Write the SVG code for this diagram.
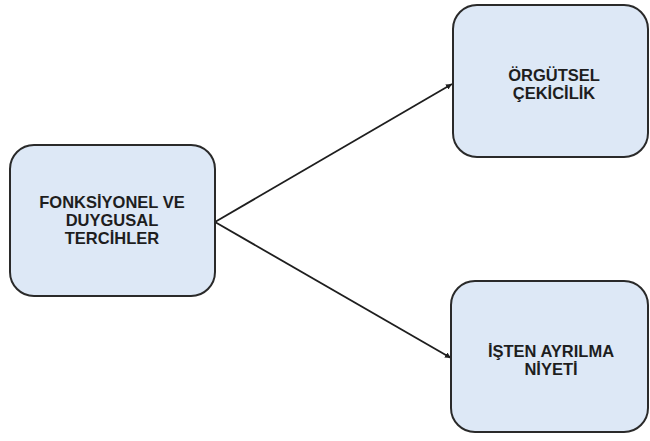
<svg xmlns="http://www.w3.org/2000/svg" width="650" height="441" viewBox="0 0 650 441">
<style>
.box{fill:#dde8f6;stroke:#2a2a2a;stroke-width:2}
.t{font-family:"Liberation Sans",Arial,sans-serif;font-weight:bold;font-size:16.5px;fill:#1e1e1e;text-anchor:middle}
.c{stroke:#1e1e1e;stroke-width:1.8;fill:none;marker-end:url(#ah)}
</style>
<defs>
<marker id="ah" viewBox="0 0 10 10" refX="10" refY="5" markerWidth="6" markerHeight="6" markerUnits="userSpaceOnUse" orient="auto">
<path d="M0,0 L10,5 L0,10 z" fill="#1e1e1e"/>
</marker>
</defs>
<rect width="650" height="441" fill="#ffffff"/>
<g id="connectors">
<line class="c" x1="215" y1="222" x2="452" y2="84"/>
<line class="c" x1="215" y1="222" x2="451" y2="358"/>
</g>
<g id="node-left">
<rect class="box" x="10" y="145" width="205" height="151" rx="24"/>
<text class="t" x="112" y="208">FONKSİYONEL VE</text>
<text class="t" x="112" y="226">DUYGUSAL</text>
<text class="t" x="112" y="244">TERCİHLER</text>
</g>
<g id="node-top">
<rect class="box" x="453" y="5" width="195" height="152" rx="24"/>
<text class="t" x="554" y="81">ÖRGÜTSEL</text>
<text class="t" x="554" y="99">ÇEKİCİLİK</text>
</g>
<g id="node-bottom">
<rect class="box" x="451" y="281" width="197" height="151" rx="24"/>
<text class="t" x="551" y="357">İŞTEN AYRILMA</text>
<text class="t" x="551" y="375">NİYETİ</text>
</g>
</svg>
